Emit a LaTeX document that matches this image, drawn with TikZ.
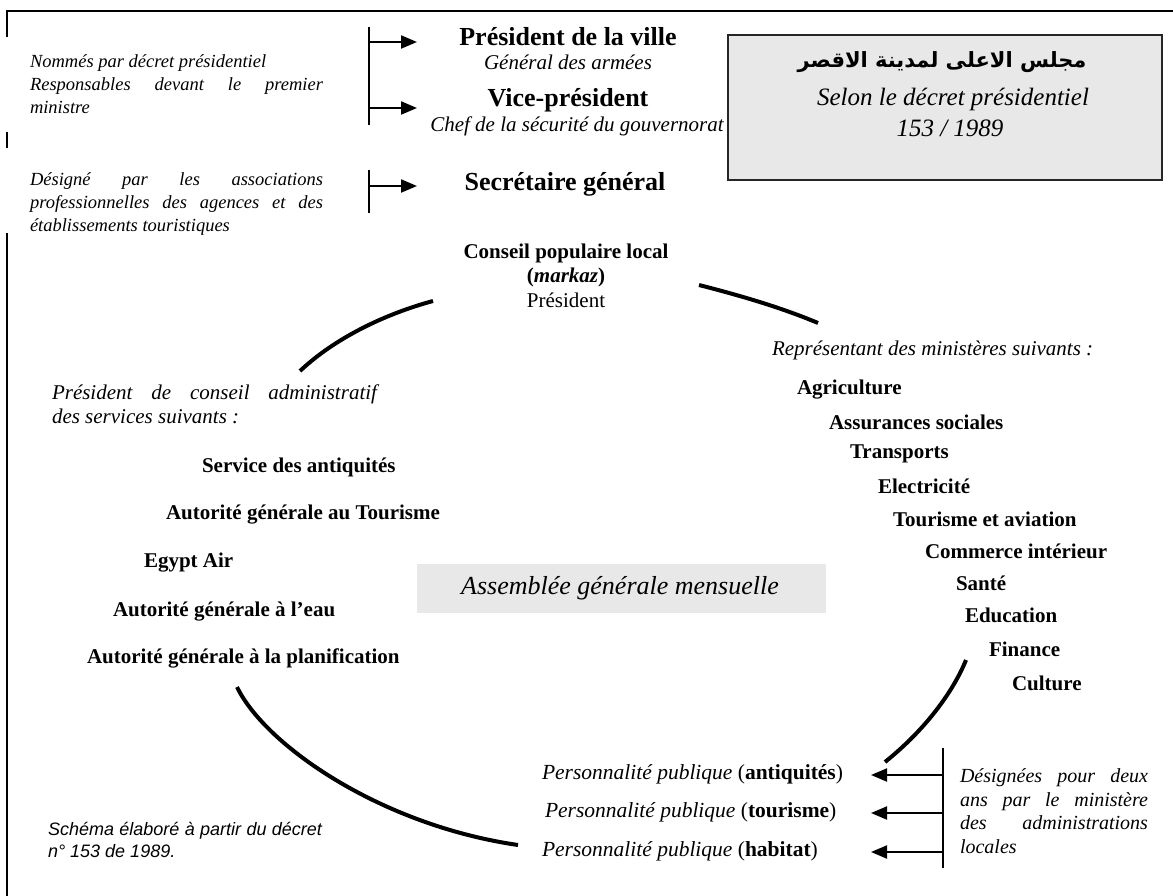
\documentclass[tikz,border=0pt]{standalone}
\usepackage{fontspec}
\setmainfont{Liberation Serif}
\newfontfamily\arabicfont[Script=Arabic]{DejaVu Sans}
\newfontfamily\arialfont{Liberation Sans}
\TeXXeTstate=1
\usetikzlibrary{arrows.meta}
\definecolor{boxgray}{HTML}{E8E8E8}
\tikzset{
  every node/.style={inner sep=0pt, outer sep=0pt},
  note/.style={font=\fontsize{18.5}{23}\selectfont\itshape, align=justify, anchor=west},
  item/.style={font=\fontsize{21}{25}\selectfont\bfseries, anchor=west},
  head/.style={font=\fontsize{26}{30}\selectfont\bfseries},
  subhead/.style={font=\fontsize{21}{25}\selectfont\itshape},
  person/.style={font=\fontsize{21.5}{25}\selectfont\itshape, anchor=west},
  arr/.style={line width=2pt, -{Triangle[length=16pt,width=13pt]}},
  brk/.style={line width=2pt},
  arcline/.style={line width=4pt},
  frameline/.style={line width=1.5pt}
}
\begin{document}
\begin{tikzpicture}[x=1pt,y=-1pt]
\useasboundingbox (0,0) rectangle (1173,896);
% frame
\draw[frameline] (7,37) -- (7,11) -- (1173,11);
\draw[frameline] (7,132) -- (7,148);
\draw[frameline] (7,233) -- (7,896);

% top-left notes
\node[note, text width=293pt] (n1) at (30,84) {\hyphenpenalty=10000 Nommés par décret présidentiel\\ \hspace*{0pt}Responsables devant le premier\linebreak ministre};
\node[note, text width=293pt] (n2) at (30,204) {\hyphenpenalty=10000 Désigné par les associations\linebreak professionnelles des agences et des\linebreak établissements touristiques};

% brackets
\coordinate (b1t) at (369,27);
\coordinate (b1b) at (369,125);
\draw[brk] (b1t) -- (b1b);
\coordinate (b1a) at (369,42);
\coordinate (b1c) at (369,108);
\coordinate (t1a) at (417,42);
\coordinate (t1c) at (417,108);
\draw[arr] (b1a) -- (t1a);
\draw[arr] (b1c) -- (t1c);
\coordinate (b2t) at (369,170);
\coordinate (b2b) at (369,213);
\draw[brk] (b2t) -- (b2b);
\coordinate (b2a) at (369,186);
\coordinate (t2a) at (417,186);
\draw[arr] (b2a) -- (t2a);

% headers
\node[head] (pres) at (568,37) {Président de la ville};
\node[subhead] (gen) at (568,62) {Général des armées};
\node[head] (vice) at (568,100) {Vice-président};
\node[subhead] (chef) at (577,126) {Chef de la sécurité du gouvernorat};
\node[head] (sec) at (565,184) {Secrétaire général};

% title box
\node[draw=black!85, line width=2.5pt, fill=boxgray, minimum width=434pt, minimum height=145pt] (tbox) at (945,107.5) {};
\node[font=\fontsize{21}{26}\selectfont\arabicfont\bfseries] (ar) at (942,62) {\beginR مجلس الاعلى لمدينة الاقصر\endR};
\node[font=\fontsize{25}{29}\selectfont\itshape] (selon) at (953,99) {Selon le décret présidentiel};
\node[font=\fontsize{25}{29}\selectfont\itshape] (num) at (950,128) {153 / 1989};

% conseil
\node[font=\fontsize{21}{25}\selectfont\bfseries] (cons) at (566,253) {Conseil populaire local};
\node[font=\fontsize{21}{25}\selectfont\bfseries] (mark) at (566,277) {(\textit{markaz})};
\node[font=\fontsize{21}{25}\selectfont] (cpres) at (566,300) {Président};

% arcs
\coordinate (a1s) at (300,371);
\coordinate (a1e) at (433,301);
\draw[arcline] (a1s) .. controls (335,338) and (385,314) .. (a1e);
\coordinate (a2s) at (699,285);
\coordinate (a2e) at (818,323);
\draw[arcline] (a2s) .. controls (738,295) and (780,307) .. (a2e);
\coordinate (a3s) at (966,660);
\coordinate (a3e) at (885,762);
\draw[arcline] (a3s) .. controls (953,692) and (925,730) .. (a3e);
\coordinate (a4s) at (237,687);
\coordinate (a4e) at (518,845);
\draw[arcline] (a4s) .. controls (265,745) and (380,825) .. (a4e);

% left services
\node[font=\fontsize{21}{24}\selectfont\itshape, align=justify, text width=325pt, anchor=west] (psvc) at (52,404) {Président de conseil administratif\linebreak des services suivants :};
\node[item] (s1) at (202,467) {Service des antiquités};
\node[item] (s2) at (166,515) {Autorité générale au Tourisme};
\node[item] (s3) at (144,563) {Egypt Air};
\node[item] (s4) at (113,612) {Autorité générale à l’eau};
\node[item] (s5) at (87,658) {Autorité générale à la planification};

% right ministries
\node[font=\fontsize{21}{25}\selectfont\itshape, anchor=west] (rep) at (772,350) {Représentant des ministères suivants :};
\node[item] (m1) at (797,390) {Agriculture};
\node[item] (m2) at (829,422) {Assurances sociales};
\node[item] (m3) at (850,454) {Transports};
\node[item] (m4) at (878,486) {Electricité};
\node[item] (m5) at (893,519) {Tourisme et aviation};
\node[item] (m6) at (925,551) {Commerce intérieur};
\node[item] (m7) at (956,583) {Santé};
\node[item] (m8) at (965,615) {Education};
\node[item] (m9) at (989,649) {Finance};
\node[item] (m10) at (1012,683) {Culture};

% central box
\node[fill=boxgray, minimum width=409pt, minimum height=49pt] (agbox) at (621.5,588.5) {};
\node[font=\fontsize{26}{30}\selectfont\itshape] (ag) at (620,588) {Assemblée générale mensuelle};

% personalities
\node[person] (p1) at (542,774) {Personnalité publique \textup{(}\textbf{\upshape antiquités}\textup{)}};
\node[person] (p2) at (545,812) {Personnalité publique \textup{(}\textbf{\upshape tourisme}\textup{)}};
\node[person] (p3) at (542,851) {Personnalité publique \textup{(}\textbf{\upshape habitat}\textup{)}};
\coordinate (b3t) at (943,748);
\coordinate (b3b) at (943,868);
\draw[brk] (b3t) -- (b3b);
\coordinate (b3a) at (943,775);
\coordinate (b3c) at (943,813);
\coordinate (b3d) at (943,852);
\coordinate (t3a) at (871,775);
\coordinate (t3c) at (871,813);
\coordinate (t3d) at (871,852);
\draw[arr] (b3a) -- (t3a);
\draw[arr] (b3c) -- (t3c);
\draw[arr] (b3d) -- (t3d);
\node[note, text width=188pt, font=\fontsize{20}{23.5}\selectfont\itshape] (desig) at (960,811) {\hyphenpenalty=10000 Désignées pour deux\linebreak ans par le ministère\linebreak des administrations\linebreak locales};

% source
\node[note, text width=274pt, font=\fontsize{18}{22.5}\selectfont\arialfont\itshape] (src) at (48,840) {\hyphenpenalty=10000 Schéma élaboré à partir du décret\linebreak n° 153 de 1989.};
\end{tikzpicture}
\end{document}
